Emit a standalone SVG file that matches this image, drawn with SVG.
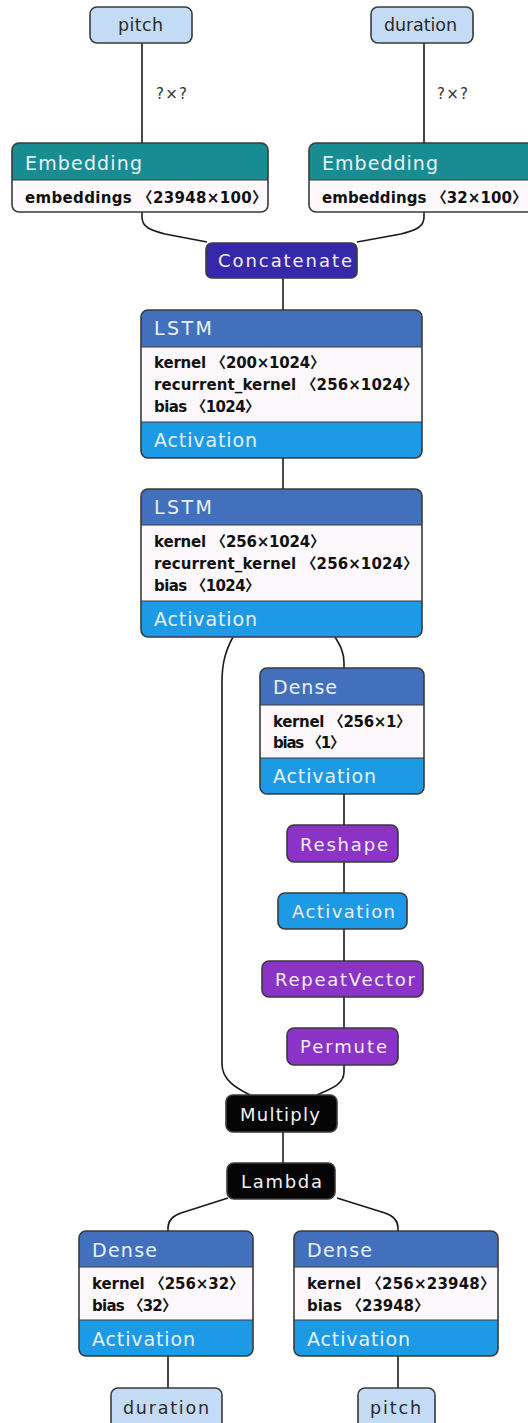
<svg xmlns="http://www.w3.org/2000/svg" width="528" height="1423" viewBox="0 0 528 1423">
<style>
.bg{fill:#ffffff}
.edge{fill:none;stroke:#1a1a1a;stroke-width:1.6}
.out{fill:none;stroke:#3a3a3a;stroke-width:1.6}
.sep{stroke:#3a3a3a;stroke-width:1}
.in{fill:#c4dbf6;stroke:#3a3a3a;stroke-width:1.6}
.teal{fill:#178d91}
.blue{fill:#4370bc}
.act{fill:#1d9ae6}
.body{fill:#fcf8fb}
.purple{fill:#8a33c6;stroke:#3a3a3a;stroke-width:1.6}
.indigo{fill:#3629a9;stroke:#3a3a3a;stroke-width:1.6}
.black{fill:#050505;stroke:#3a3a3a;stroke-width:1.6}
.actpill{fill:#1d9ae6;stroke:#3a3a3a;stroke-width:1.6}
text{font-family:"DejaVu Sans","Noto Sans CJK SC",sans-serif}
.h{font-size:19px;fill:#e8f1fb}
.b{font-size:15px;font-weight:bold;fill:#111}
.p{font-size:18px;fill:#f3eefa}
.i{font-size:17.5px;fill:#2a2a2a}
.l{font-size:15px;fill:#333}
</style>
<defs>
<clipPath id="c-embp"><rect x="12" y="143" width="256" height="69" rx="7"/></clipPath>
<clipPath id="c-embd"><rect x="309" y="143" width="225" height="69" rx="7"/></clipPath>
<clipPath id="c-l1"><rect x="141" y="310" width="281" height="148" rx="7"/></clipPath>
<clipPath id="c-l2"><rect x="141" y="489" width="281" height="148" rx="7"/></clipPath>
<clipPath id="c-da"><rect x="260" y="668" width="164" height="126" rx="7"/></clipPath>
<clipPath id="c-dd"><rect x="79" y="1231" width="174" height="125" rx="7"/></clipPath>
<clipPath id="c-dp"><rect x="294" y="1231" width="204" height="125" rx="7"/></clipPath>
</defs>
<rect class="bg" x="0" y="0" width="528" height="1423"/>

<g id="connectors">
<path class="edge" d="M142 43 V143"/>
<path class="edge" d="M424 43 V143"/>
<text class="l" x="156" y="99" textLength="31">?×?</text>
<text class="l" x="437" y="99" textLength="31">?×?</text>
<path class="edge" d="M142 212 V217 C142 227 150 230 165 234 L207 242"/>
<path class="edge" d="M424 212 V217 C424 227 416 230 401 234 L357 242"/>
<path class="edge" d="M283 278 V310"/>
<path class="edge" d="M283 458 V489"/>
<path class="edge" d="M233 637 C226 650 222 662 222 682 V1064 C222 1080 236 1088 250 1095"/>
<path class="edge" d="M335 637 C340 645 344 652 344 663 V668"/>
<path class="edge" d="M344 794 V825"/>
<path class="edge" d="M344 862 V893"/>
<path class="edge" d="M344 929 V961"/>
<path class="edge" d="M344 997 V1028"/>
<path class="edge" d="M344 1065 V1072 C344 1085 330 1089 317 1095"/>
<path class="edge" d="M283 1132 V1163"/>
<path class="edge" d="M228 1198 L181 1213 C172 1216 168 1221 168 1228 V1231"/>
<path class="edge" d="M337 1198 L385 1213 C394 1216 398 1221 398 1228 V1231"/>
<path class="edge" d="M168 1356 V1388"/>
<path class="edge" d="M398 1356 V1388"/>
</g>

<g id="in-pitch">
<rect class="in" x="90" y="7" width="102" height="36" rx="7"/>
<text class="i" x="118" y="31" textLength="45">pitch</text>
</g>
<g id="in-duration">
<rect class="in" x="371" y="7" width="102" height="36" rx="7"/>
<text class="i" x="384" y="31" textLength="73">duration</text>
</g>

<g id="emb-pitch">
<g clip-path="url(#c-embp)">
<rect class="teal" x="12" y="143" width="256" height="37"/>
<rect class="body" x="12" y="180" width="256" height="32"/>
</g>
<line class="sep" x1="12" y1="180" x2="268" y2="180"/>
<rect class="out" x="12" y="143" width="256" height="69" rx="7"/>
<text class="h" x="25" y="170" textLength="117">Embedding</text>
<text class="b" x="25" y="203" textLength="242">embeddings 〈23948×100〉</text>
</g>

<g id="emb-duration">
<g clip-path="url(#c-embd)">
<rect class="teal" x="309" y="143" width="225" height="37"/>
<rect class="body" x="309" y="180" width="225" height="32"/>
</g>
<line class="sep" x1="309" y1="180" x2="534" y2="180"/>
<rect class="out" x="309" y="143" width="225" height="69" rx="7"/>
<text class="h" x="322" y="170" textLength="116">Embedding</text>
<text class="b" x="322" y="203" textLength="205">embeddings 〈32×100〉</text>
</g>

<g id="concatenate">
<rect class="indigo" x="206" y="243" width="151" height="35" rx="6"/>
<text class="p" x="218" y="267" textLength="134">Concatenate</text>
</g>

<g id="lstm1">
<g clip-path="url(#c-l1)">
<rect class="blue" x="141" y="310" width="281" height="37"/>
<rect class="body" x="141" y="347" width="281" height="75"/>
<rect class="act" x="141" y="422" width="281" height="36"/>
</g>
<line class="sep" x1="141" y1="347" x2="422" y2="347"/>
<line class="sep" x1="141" y1="422" x2="422" y2="422"/>
<rect class="out" x="141" y="310" width="281" height="148" rx="7"/>
<text class="h" x="154" y="335" textLength="58">LSTM</text>
<text class="b" x="154" y="368" textLength="171">kernel 〈200×1024〉</text>
<text class="b" x="154" y="390" textLength="264">recurrent_kernel 〈256×1024〉</text>
<text class="b" x="154" y="412" textLength="106">bias 〈1024〉</text>
<text class="h" x="154" y="447" textLength="103">Activation</text>
</g>

<g id="lstm2">
<g clip-path="url(#c-l2)">
<rect class="blue" x="141" y="489" width="281" height="36"/>
<rect class="body" x="141" y="525" width="281" height="76"/>
<rect class="act" x="141" y="601" width="281" height="36"/>
</g>
<line class="sep" x1="141" y1="525" x2="422" y2="525"/>
<line class="sep" x1="141" y1="601" x2="422" y2="601"/>
<rect class="out" x="141" y="489" width="281" height="148" rx="7"/>
<text class="h" x="154" y="514" textLength="58">LSTM</text>
<text class="b" x="154" y="547" textLength="171">kernel 〈256×1024〉</text>
<text class="b" x="154" y="569" textLength="264">recurrent_kernel 〈256×1024〉</text>
<text class="b" x="154" y="591" textLength="106">bias 〈1024〉</text>
<text class="h" x="154" y="626" textLength="103">Activation</text>
</g>

<g id="dense-attn">
<g clip-path="url(#c-da)">
<rect class="blue" x="260" y="668" width="164" height="37"/>
<rect class="body" x="260" y="705" width="164" height="53"/>
<rect class="act" x="260" y="758" width="164" height="36"/>
</g>
<line class="sep" x1="260" y1="705" x2="424" y2="705"/>
<line class="sep" x1="260" y1="758" x2="424" y2="758"/>
<rect class="out" x="260" y="668" width="164" height="126" rx="7"/>
<text class="h" x="273" y="694" textLength="64">Dense</text>
<text class="b" x="273" y="727" textLength="138">kernel 〈256×1〉</text>
<text class="b" x="273" y="748" textLength="72">bias 〈1〉</text>
<text class="h" x="273" y="783" textLength="103">Activation</text>
</g>

<g id="reshape">
<rect class="purple" x="287" y="825" width="111" height="37" rx="7"/>
<text class="p" x="300" y="851" textLength="88">Reshape</text>
</g>
<g id="activation">
<rect class="actpill" x="278" y="893" width="129" height="36" rx="7"/>
<text class="p" x="292" y="918" textLength="103">Activation</text>
</g>
<g id="repeatvector">
<rect class="purple" x="262" y="961" width="161" height="36" rx="7"/>
<text class="p" x="275" y="986" textLength="140">RepeatVector</text>
</g>
<g id="permute">
<rect class="purple" x="287" y="1028" width="111" height="37" rx="7"/>
<text class="p" x="300" y="1053" textLength="87">Permute</text>
</g>
<g id="multiply">
<rect class="black" x="226" y="1095" width="111" height="37" rx="7"/>
<text class="p" x="240" y="1121" textLength="80" style="fill:#f2f2f2">Multiply</text>
</g>
<g id="lambda">
<rect class="black" x="227" y="1163" width="108" height="36" rx="7"/>
<text class="p" x="241" y="1188" textLength="81" style="fill:#f2f2f2">Lambda</text>
</g>

<g id="dense-duration">
<g clip-path="url(#c-dd)">
<rect class="blue" x="79" y="1231" width="174" height="36"/>
<rect class="body" x="79" y="1267" width="174" height="53"/>
<rect class="act" x="79" y="1320" width="174" height="36"/>
</g>
<line class="sep" x1="79" y1="1267" x2="253" y2="1267"/>
<line class="sep" x1="79" y1="1320" x2="253" y2="1320"/>
<rect class="out" x="79" y="1231" width="174" height="125" rx="7"/>
<text class="h" x="92" y="1257" textLength="65">Dense</text>
<text class="b" x="92" y="1289" textLength="152">kernel 〈256×32〉</text>
<text class="b" x="92" y="1311" textLength="85">bias 〈32〉</text>
<text class="h" x="92" y="1346" textLength="103">Activation</text>
</g>

<g id="dense-pitch">
<g clip-path="url(#c-dp)">
<rect class="blue" x="294" y="1231" width="204" height="36"/>
<rect class="body" x="294" y="1267" width="204" height="53"/>
<rect class="act" x="294" y="1320" width="204" height="36"/>
</g>
<line class="sep" x1="294" y1="1267" x2="498" y2="1267"/>
<line class="sep" x1="294" y1="1320" x2="498" y2="1320"/>
<rect class="out" x="294" y="1231" width="204" height="125" rx="7"/>
<text class="h" x="307" y="1257" textLength="65">Dense</text>
<text class="b" x="307" y="1289" textLength="188">kernel 〈256×23948〉</text>
<text class="b" x="307" y="1311" textLength="122">bias 〈23948〉</text>
<text class="h" x="307" y="1346" textLength="103">Activation</text>
</g>

<g id="out-duration">
<rect class="in" x="111" y="1388" width="111" height="42" rx="7"/>
<text class="i" x="123" y="1414" textLength="86">duration</text>
</g>
<g id="out-pitch">
<rect class="in" x="358" y="1388" width="77" height="42" rx="7"/>
<text class="i" x="370" y="1414" textLength="51">pitch</text>
</g>
</svg>
